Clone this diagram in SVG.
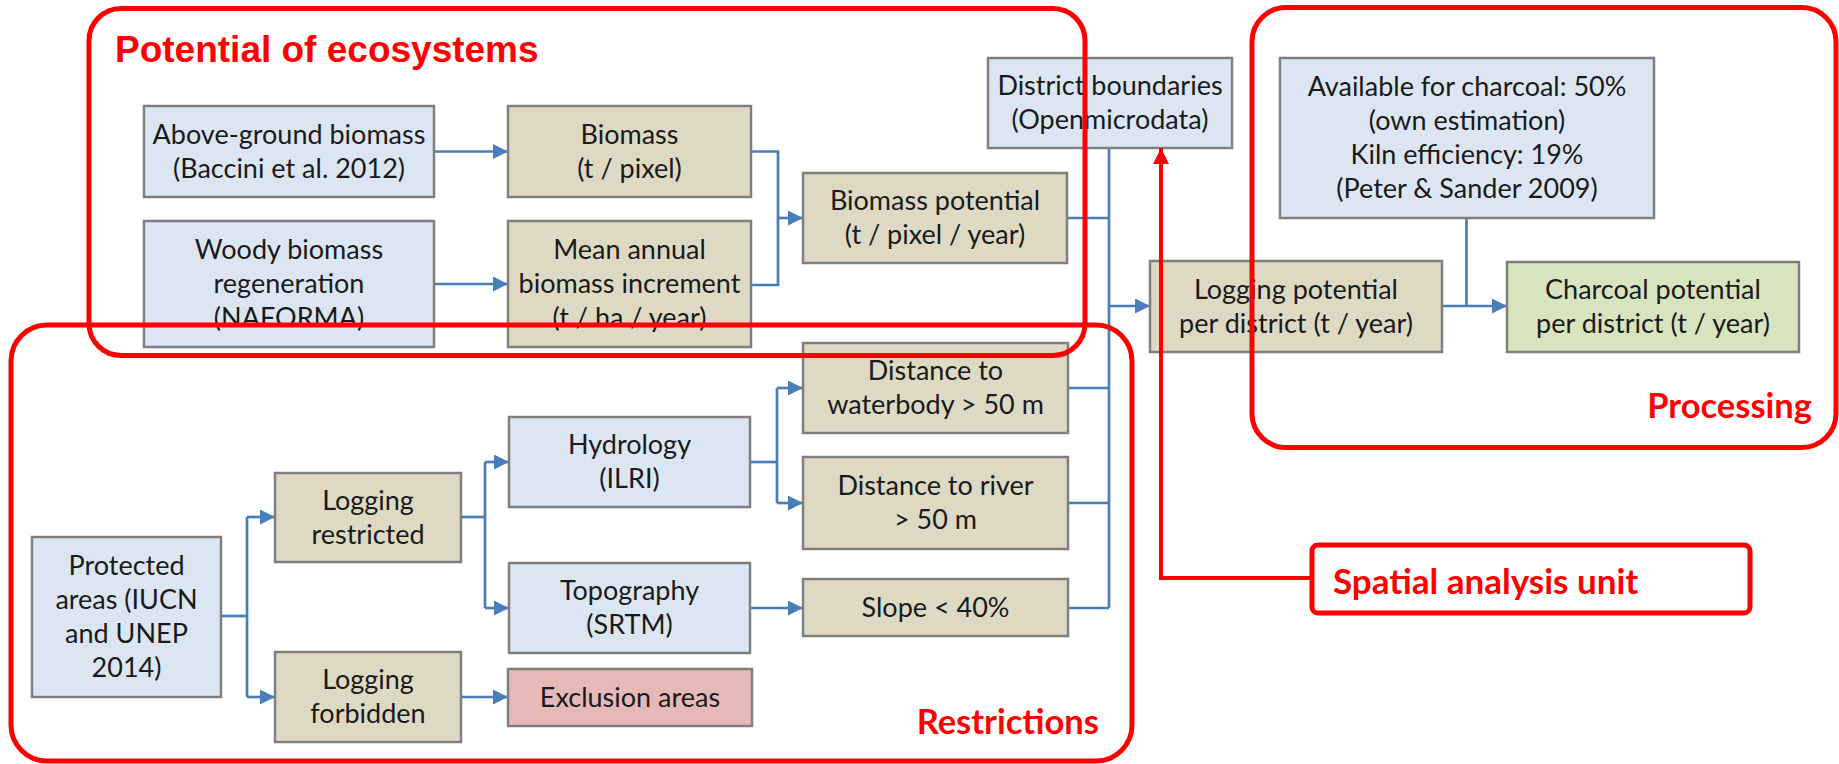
<svg xmlns="http://www.w3.org/2000/svg" width="1839" height="764" viewBox="0 0 1839 764">
<style>
  .n rect{stroke:#7f7f7f;stroke-width:2.5}
  .blue{fill:#dce6f2}
  .tan{fill:#ddd9c3}
  .green{fill:#d7e4bd}
  .pink{fill:#e6b9b8}
  .n text{font-family:"Lato","Liberation Sans",sans-serif;font-size:27px;fill:#1a1a1a;text-anchor:middle}
  .c path{fill:none;stroke:#4a7ebb;stroke-width:2.7}
  .grp{fill:none;stroke:#ff0000;stroke-width:5}
  .lbl{fill:#ff0000;font-weight:bold}
</style>
<defs>
  <marker id="ar" viewBox="0 0 10 10" refX="10" refY="5" markerWidth="15" markerHeight="15" markerUnits="userSpaceOnUse" orient="auto">
    <path d="M0,0 L10,5 L0,10 z" fill="#4a7ebb"/>
  </marker>
  <marker id="rar" viewBox="0 0 10 10" refX="10" refY="5" markerWidth="16" markerHeight="16" markerUnits="userSpaceOnUse" orient="auto">
    <path d="M0,0 L10,5 L0,10 z" fill="#ff0000"/>
  </marker>
</defs>
<rect width="1839" height="764" fill="#ffffff"/>

<g id="connectors" class="c">
  <path d="M434,151.5 H508" marker-end="url(#ar)"/>
  <path d="M434,284 H508" marker-end="url(#ar)"/>
  <path d="M751,151.5 H778 V285 H751"/>
  <path d="M778,218 H803" marker-end="url(#ar)"/>
  <path d="M1067,218 H1109"/>
  <path d="M1109,148 V608"/>
  <path d="M1109,306 H1150" marker-end="url(#ar)"/>
  <path d="M1068,388 H1109"/>
  <path d="M1068,503 H1109"/>
  <path d="M1068,608 H1109"/>
  <path d="M1466.5,218 V306"/>
  <path d="M1442,306 H1507" marker-end="url(#ar)"/>
  <path d="M221,616 H247"/>
  <path d="M247,517 V697"/>
  <path d="M247,517 H275" marker-end="url(#ar)"/>
  <path d="M247,697 H275" marker-end="url(#ar)"/>
  <path d="M461,517 H485"/>
  <path d="M485,462 V608"/>
  <path d="M485,462 H509" marker-end="url(#ar)"/>
  <path d="M485,608 H509" marker-end="url(#ar)"/>
  <path d="M750,462 H777"/>
  <path d="M777,388 V503"/>
  <path d="M777,388 H803" marker-end="url(#ar)"/>
  <path d="M777,503 H803" marker-end="url(#ar)"/>
  <path d="M750,608 H803" marker-end="url(#ar)"/>
  <path d="M461,697 H508" marker-end="url(#ar)"/>
</g>

<g id="above" class="n"><rect class="blue" x="144" y="106" width="290" height="91"/>
  <text x="289" y="143.5">Above-ground biomass</text><text x="289" y="177.5">(Baccini et al. 2012)</text></g>
<g id="woody" class="n"><rect class="blue" x="144" y="221" width="290" height="126"/>
  <text x="289" y="259">Woody biomass</text><text x="289" y="293">regeneration</text><text x="289" y="327">(NAFORMA)</text></g>
<g id="biomass" class="n"><rect class="tan" x="508" y="106" width="243" height="91"/>
  <text x="629.5" y="143.5">Biomass</text><text x="629.5" y="177.5">(t / pixel)</text></g>
<g id="mean" class="n"><rect class="tan" x="508" y="221" width="243" height="126"/>
  <text x="629.5" y="259">Mean annual</text><text x="629.5" y="293">biomass increment</text><text x="629.5" y="327">(t / ha / year)</text></g>
<g id="bpot" class="n"><rect class="tan" x="803" y="173" width="264" height="90"/>
  <text x="935" y="210">Biomass potential</text><text x="935" y="244">(t / pixel / year)</text></g>
<g id="district" class="n"><rect class="blue" x="988" y="58" width="244" height="90"/>
  <text x="1110" y="95">District boundaries</text><text x="1110" y="129">(Openmicrodata)</text></g>
<g id="logging" class="n"><rect class="tan" x="1150" y="261" width="292" height="91"/>
  <text x="1296" y="298.5">Logging potential</text><text x="1296" y="332.5">per district (t / year)</text></g>
<g id="available" class="n"><rect class="blue" x="1280" y="58" width="374" height="160"/>
  <text x="1467" y="96">Available for charcoal: 50%</text><text x="1467" y="130">(own estimation)</text><text x="1467" y="164">Kiln efficiency: 19%</text><text x="1467" y="198">(Peter &amp; Sander 2009)</text></g>
<g id="charcoal" class="n"><rect class="green" x="1507" y="262" width="292" height="90"/>
  <text x="1653" y="299">Charcoal potential</text><text x="1653" y="333">per district (t / year)</text></g>
<g id="protected" class="n"><rect class="blue" x="32" y="537" width="189" height="160"/>
  <text x="126.5" y="575">Protected</text><text x="126.5" y="609">areas (IUCN</text><text x="126.5" y="643">and UNEP</text><text x="126.5" y="677">2014)</text></g>
<g id="lrestricted" class="n"><rect class="tan" x="275" y="473" width="186" height="89"/>
  <text x="368" y="509.5">Logging</text><text x="368" y="543.5">restricted</text></g>
<g id="lforbidden" class="n"><rect class="tan" x="275" y="652" width="186" height="90"/>
  <text x="368" y="689">Logging</text><text x="368" y="723">forbidden</text></g>
<g id="hydrology" class="n"><rect class="blue" x="509" y="417" width="241" height="90"/>
  <text x="629.5" y="454">Hydrology</text><text x="629.5" y="488">(ILRI)</text></g>
<g id="topography" class="n"><rect class="blue" x="509" y="563" width="241" height="90"/>
  <text x="629.5" y="600">Topography</text><text x="629.5" y="634">(SRTM)</text></g>
<g id="exclusion" class="n"><rect class="pink" x="508" y="669" width="244" height="57"/>
  <text x="630" y="706.5">Exclusion areas</text></g>
<g id="waterbody" class="n"><rect class="tan" x="803" y="343" width="265" height="90"/>
  <text x="935.5" y="380">Distance to</text><text x="935.5" y="414">waterbody &gt; 50 m</text></g>
<g id="river" class="n"><rect class="tan" x="803" y="457" width="265" height="92"/>
  <text x="935.5" y="495">Distance to river</text><text x="935.5" y="529">&gt; 50 m</text></g>
<g id="slope" class="n"><rect class="tan" x="803" y="579" width="265" height="57"/>
  <text x="935.5" y="616.5">Slope &lt; 40%</text></g>

<g id="groups">
  <rect class="grp" x="89" y="8.5" width="996" height="347" rx="32"/>
  <rect class="grp" x="11" y="325" width="1121" height="436" rx="36"/>
  <rect class="grp" x="1252" y="7.5" width="584" height="440" rx="34"/>
  <text class="lbl" x="115" y="62" font-family="Liberation Sans, Arial, sans-serif" font-size="37">Potential of ecosystems</text>
  <text class="lbl" x="1812" y="418" text-anchor="end" font-family="Lato, Liberation Sans, sans-serif" font-size="34.5">Processing</text>
  <text class="lbl" x="1099" y="734" text-anchor="end" font-family="Lato, Liberation Sans, sans-serif" font-size="34.5">Restrictions</text>
</g>

<g id="spatial">
  <path d="M1312,578 H1161 V148" fill="none" stroke="#ff0000" stroke-width="4" marker-end="url(#rar)"/>
  <rect x="1312" y="545" width="438" height="68" rx="6" fill="#ffffff" stroke="#ff0000" stroke-width="5"/>
  <text class="lbl" x="1333" y="594" font-family="Lato, Liberation Sans, sans-serif" font-size="35">Spatial analysis unit</text>
</g>
</svg>
